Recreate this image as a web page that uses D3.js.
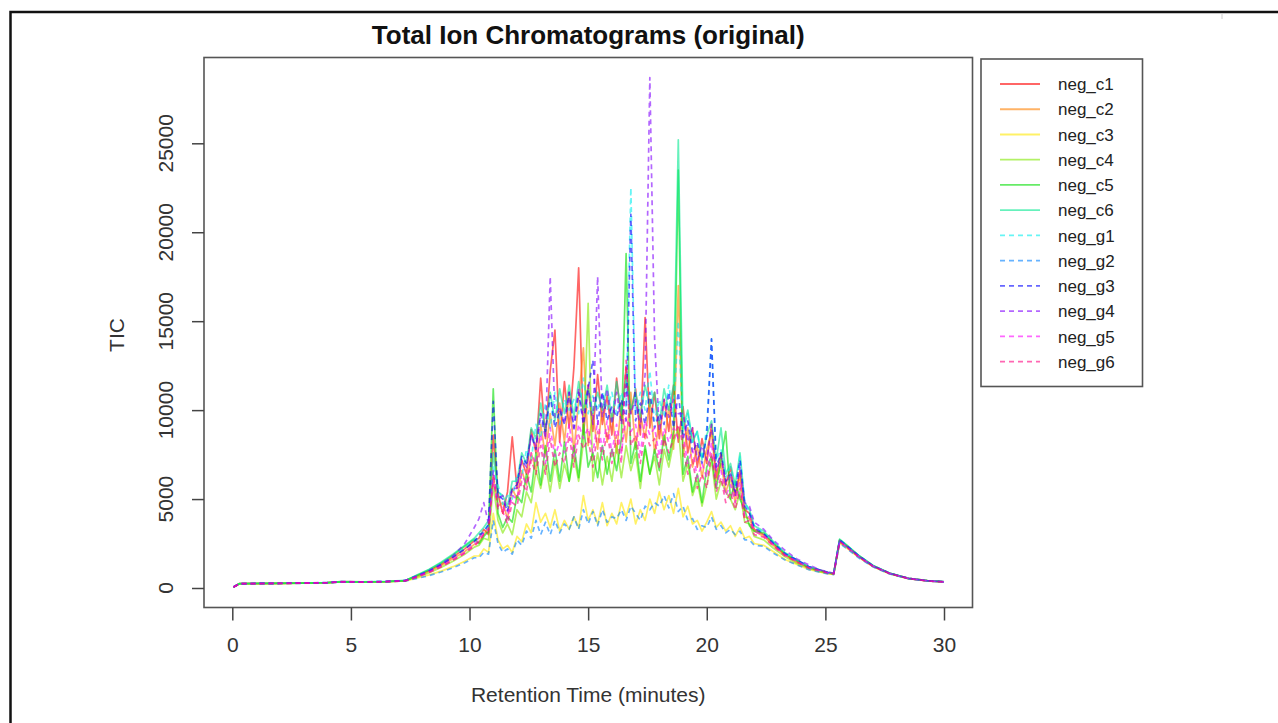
<!DOCTYPE html>
<html>
<head>
    <meta charset="utf-8" />
    <title>Total Ion Chromatograms (original)</title>
    <style>
        body { margin: 0; background: #fff; }
        text { font-family: "Liberation Sans", Arial, Helvetica, sans-serif; }
    </style>
</head>
<body>
<script src="https://d3js.org/d3.v7.min.js"></script>
<script>
    // retention time (minutes) shared by all samples
    var rt = [0.05, 0.3, 1, 2, 3, 4, 4.6, 5.5, 6.5, 7.3, 7.8, 8.3, 8.8, 9.3, 9.8, 10.2,
              10.4, 10.6, 10.8, 11.0, 11.2, 11.4, 11.6, 11.8, 12.0, 12.2,
              12.4, 12.6, 12.8, 13.0, 13.2, 13.4, 13.6, 13.8, 14.0, 14.2,
              14.4, 14.6, 14.8, 15.0, 15.2, 15.4, 15.6, 15.8, 16.0, 16.2,
              16.4, 16.6, 16.8, 17.0, 17.2, 17.4, 17.6, 17.8, 18.0, 18.2,
              18.4, 18.6, 18.8, 19.0, 19.2, 19.4, 19.6, 19.8, 20.0, 20.2,
              20.4, 20.6, 20.8, 21.0, 21.2, 21.4, 21.6, 21.8, 22.0,
              22.4, 22.8, 23.3, 23.8, 24.3, 24.8, 25.1, 25.35, 25.6, 25.9, 26.4, 27.0, 27.7, 28.5, 29.3, 30.0];

    // TIC per sample
    var neg_c1 = [60, 250, 255, 265, 280, 300, 355, 340, 365, 420, 700, 980, 1320, 1750, 2200, 2650,
                  2800, 3300, 3000, 8600, 5300, 4200, 5400, 8500, 5600, 7200,
                  6400, 8900, 7600, 11800, 8400, 12200, 14500, 8200, 11600, 9000,
                  12400, 18000, 8600, 11400, 8800, 12000, 9200, 10800, 8600, 11800,
                  9400, 12400, 9800, 11200, 8600, 15200, 9000, 11000, 8400, 10600,
                  8800, 11400, 8200, 10200, 7600, 9000, 6800, 8400, 7000, 9200,
                  6200, 7600, 5800, 6800, 5200, 6600, 4400, 4200, 3300,
                  3000, 2500, 1850, 1500, 1120, 980, 840, 800, 2680, 2360, 1800, 1250, 830, 540, 410, 350];
    var neg_c2 = [55, 245, 250, 262, 276, 296, 350, 335, 360, 410, 660, 930, 1250, 1650, 2050, 2450,
                  2600, 3000, 3400, 6200, 4600, 4800, 3900, 5600, 5000, 6600,
                  5800, 7600, 6600, 9200, 7400, 9800, 8000, 10400, 8200, 11000,
                  7600, 10600, 13500, 8000, 9800, 7800, 10200, 8200, 9800, 7600,
                  10400, 8200, 11000, 7800, 9800, 8400, 10600, 7600, 9400, 8000,
                  10200, 7800, 17000, 7400, 9000, 6800, 8000, 6200, 7800, 8800,
                  6000, 7000, 5400, 6200, 4800, 6400, 4000, 3900, 3200,
                  2900, 2400, 1870, 1430, 1150, 930, 860, 790, 2650, 2330, 1780, 1240, 820, 535, 405, 345];
    var neg_c3 = [40, 235, 245, 255, 268, 290, 340, 325, 350, 395, 560, 740, 950, 1200, 1500, 1800,
                  1800, 2200, 2000, 4200, 2700, 2200, 2400, 2000, 2900, 2600,
                  3600, 3100, 4800, 3700, 4200, 3400, 4400, 3200, 3800, 3300,
                  4000, 3400, 5200, 3800, 4400, 3600, 4800, 3500, 4200, 3600,
                  4800, 4000, 5000, 3600, 4400, 3800, 5000, 4200, 5400, 4400,
                  5200, 4200, 5600, 4000, 4600, 3600, 3800, 3200, 3700, 4300,
                  3400, 3700, 3200, 3500, 2900, 3400, 2800, 2900, 2500,
                  2400, 2050, 1600, 1320, 1040, 890, 800, 760, 2520, 2240, 1720, 1200, 800, 520, 395, 335];
    var neg_c4 = [50, 240, 250, 260, 272, 295, 345, 330, 355, 405, 620, 860, 1150, 1500, 1900, 2300,
                  2400, 2800, 2700, 5800, 3800, 3100, 3600, 3000, 4400, 4000,
                  5400, 4800, 6600, 5600, 7000, 5400, 7200, 5600, 7000, 6000,
                  7400, 6000, 8200, 16000, 6000, 7600, 5800, 7400, 6000, 8000,
                  6200, 8000, 6600, 7600, 5600, 7800, 6400, 7400, 5800, 7800,
                  6800, 8200, 9000, 6000, 7000, 5200, 6000, 4600, 5800, 7200,
                  5000, 6000, 5400, 5000, 4400, 5400, 3700, 3600, 2900,
                  2700, 2250, 1760, 1380, 1110, 900, 830, 780, 2600, 2300, 1760, 1220, 810, 530, 400, 340];
    var neg_c5 = [52, 245, 252, 262, 275, 298, 350, 338, 362, 415, 720, 1020, 1400, 1850, 2350, 2750,
                  2500, 2900, 3200, 11200, 4200, 3400, 4000, 3700, 5200, 4800,
                  6400, 5400, 7600, 5800, 8000, 6000, 7800, 6000, 8200, 6000,
                  8000, 6200, 9200, 6800, 7600, 6200, 8000, 6400, 7800, 6600,
                  8400, 18800, 7000, 8200, 6000, 8000, 6400, 7800, 6600, 8600,
                  7200, 8800, 23500, 6400, 7400, 5400, 6400, 4800, 6800, 7400,
                  5600, 7200, 8800, 5000, 6000, 5000, 4400, 3500, 3200,
                  3100, 2550, 1930, 1540, 1170, 990, 860, 810, 2720, 2400, 1830, 1270, 840, 545, 415, 352];
    var neg_c6 = [58, 250, 258, 268, 282, 305, 360, 345, 372, 425, 740, 1050, 1450, 1900, 2400, 2800,
                  3100, 3400, 3800, 7600, 5400, 5200, 4600, 6000, 6000, 7600,
                  7000, 9000, 8400, 10400, 8800, 11000, 9400, 11200, 9800, 11400,
                  9600, 11600, 10000, 11200, 9800, 11000, 10000, 11400, 9400, 11600,
                  9800, 11800, 10000, 11000, 9600, 11400, 10200, 11000, 9200, 11200,
                  10000, 11400, 25200, 9000, 10000, 8200, 8800, 7200, 8600, 9400,
                  7200, 9000, 6400, 7000, 5800, 7600, 4800, 4400, 3500,
                  3200, 2620, 1980, 1570, 1190, 1000, 870, 820, 2750, 2420, 1840, 1280, 845, 548, 418, 355];
    var neg_g1 = [55, 248, 255, 265, 280, 302, 355, 340, 368, 420, 700, 990, 1350, 1780, 2250, 2700,
                  2800, 3300, 3500, 6800, 5800, 4700, 5200, 5000, 6400, 6200,
                  7800, 7200, 9200, 8400, 10400, 9000, 11000, 9200, 10600, 10000,
                  10600, 9800, 11800, 9800, 10800, 10000, 11000, 10000, 11000, 9800,
                  11000, 10200, 22500, 9800, 11000, 10000, 12200, 9400, 10600, 9600,
                  11400, 9600, 15000, 8800, 9800, 8200, 8800, 7200, 9000, 14000,
                  7200, 7800, 6200, 6800, 5600, 7400, 4800, 4300, 3500,
                  3100, 2560, 1960, 1550, 1180, 985, 870, 815, 2700, 2380, 1820, 1260, 835, 542, 412, 350];
    var neg_g2 = [38, 232, 242, 252, 265, 288, 338, 322, 348, 392, 540, 700, 900, 1130, 1420, 1700,
                  1700, 2000, 1900, 3800, 2500, 2000, 2200, 1900, 2700, 2400,
                  3200, 2800, 3800, 3000, 3700, 3000, 3800, 3100, 3600, 3300,
                  4000, 3300, 4400, 3600, 4300, 3500, 4400, 3700, 4000, 3900,
                  4400, 3800, 4600, 4200, 3800, 4600, 4400, 4800, 4600, 5200,
                  4500, 5300, 4300, 4600, 3800, 3900, 3300, 3500, 3400, 4000,
                  3300, 3500, 3100, 3300, 3000, 3200, 2700, 2700, 2400,
                  2350, 1970, 1580, 1300, 1030, 880, 790, 750, 2500, 2220, 1700, 1190, 795, 518, 392, 332];
    var neg_g3 = [54, 246, 254, 264, 278, 300, 352, 338, 365, 418, 680, 960, 1300, 1720, 2180, 2600,
                  3000, 3100, 3600, 10500, 5200, 5000, 4300, 5600, 5800, 7400,
                  7000, 8600, 7800, 9800, 8800, 10800, 9000, 10000, 9200, 11000,
                  9000, 11000, 9200, 11200, 12800, 9200, 11000, 9400, 10200, 9600,
                  10600, 9400, 21000, 9400, 10400, 9200, 11000, 9000, 9800, 9200,
                  11000, 9000, 11000, 8400, 9400, 7600, 8200, 7000, 8600, 14000,
                  6800, 7600, 6000, 6400, 5400, 7200, 4600, 4200, 3400,
                  3050, 2520, 1930, 1580, 1210, 1010, 880, 820, 2700, 2370, 1810, 1255, 832, 540, 410, 348];
    var neg_g4 = [56, 250, 256, 266, 282, 305, 365, 345, 370, 425, 690, 980, 1340, 1800, 2500, 3400,
                  3900, 4800, 3600, 6600, 5000, 5200, 4300, 5600, 5600, 7200,
                  6800, 8600, 8000, 9800, 8400, 17500, 9600, 10200, 9200, 11000,
                  8800, 11200, 9400, 11400, 9200, 17500, 9600, 11200, 9200, 11000,
                  9200, 11400, 9800, 10600, 9000, 12000, 28700, 14000, 8800, 10600,
                  9600, 10600, 9800, 9800, 8200, 9000, 7200, 8000, 7200, 9200,
                  6600, 7400, 5800, 6400, 5200, 6800, 4800, 4600, 3700,
                  3300, 2700, 2120, 1630, 1300, 1010, 910, 830, 2660, 2340, 1790, 1245, 828, 538, 408, 346];
    var neg_g5 = [50, 242, 250, 260, 274, 296, 348, 334, 358, 408, 640, 900, 1220, 1600, 2000, 2450,
                  2700, 3100, 3300, 6000, 4600, 4600, 3900, 5200, 5000, 6400,
                  5800, 7600, 7000, 8600, 7000, 9000, 7400, 8200, 7600, 9200,
                  7400, 9200, 8400, 9000, 7600, 9400, 7800, 9400, 7600, 9200,
                  7600, 9600, 8800, 9200, 7600, 9400, 8600, 9000, 7400, 9000,
                  8200, 9000, 8400, 8600, 7000, 7800, 6200, 7000, 6200, 8200,
                  5800, 6600, 5200, 5800, 4800, 6000, 4000, 4000, 3200,
                  2950, 2440, 1860, 1500, 1150, 970, 855, 800, 2620, 2310, 1770, 1235, 822, 533, 404, 343];
    var neg_g6 = [48, 240, 248, 258, 272, 294, 346, 332, 356, 405, 620, 870, 1180, 1550, 1950, 2350,
                  2600, 3000, 3100, 6400, 4400, 4300, 3600, 4800, 4600, 6000,
                  5400, 7200, 6400, 8000, 6400, 8400, 6800, 7600, 7000, 8600,
                  6800, 8600, 7800, 8400, 6800, 8800, 7200, 8800, 7000, 8600,
                  7000, 12800, 8000, 8600, 7000, 8800, 8000, 8400, 6800, 8400,
                  7600, 8400, 9200, 8000, 6400, 7200, 5600, 6400, 5600, 7600,
                  5400, 6200, 4800, 5400, 4400, 5600, 3700, 3800, 3000,
                  2850, 2370, 1800, 1460, 1120, 950, 845, 790, 2600, 2290, 1750, 1225, 815, 530, 400, 340];

    var sampleNames = ["neg_c1", "neg_c2", "neg_c3", "neg_c4", "neg_c5", "neg_c6",
                       "neg_g1", "neg_g2", "neg_g3", "neg_g4", "neg_g5", "neg_g6"];
    var samples = [neg_c1, neg_c2, neg_c3, neg_c4, neg_c5, neg_c6,
                   neg_g1, neg_g2, neg_g3, neg_g4, neg_g5, neg_g6];

    var xTicks = [0, 5, 10, 15, 20, 25, 30];
    var yTicks = [0, 5000, 10000, 15000, 20000, 25000];

    var colors = ["#ff0000", "#ff8000", "#ffe800", "#80e800", "#00dd00", "#00e890",
                  "#00eeee", "#0080ff", "#0000ff", "#8000ff", "#ff00ff", "#ff0080"];

    var width = 1278;
    var height = 723;
    var box = {"left": 204, "right": 972.5, "top": 57.5, "bottom": 607.5};
    var axisColor = "#444";

    var svg = d3.select("body").append("svg")
                .attr("width", width)
                .attr("height", height);

    svg.append("rect")
       .attr("width", width)
       .attr("height", height)
       .attr("fill", "#fff");

    // outer frame of the screenshot
    svg.append("rect")
       .attr("x", 10.5).attr("y", 12)
       .attr("width", 1300).attr("height", 800)
       .attr("fill", "none")
       .attr("stroke", "#111")
       .attr("stroke-width", 2.5);
    svg.append("line")
       .attr("x1", 1222).attr("x2", 1222)
       .attr("y1", 13).attr("y2", 19)
       .attr("stroke", "#ccc");

    var xScale = d3.scaleLinear().domain([0, 30]).range([232.3, 944]);
    var yScale = d3.scaleLinear().domain([0, 25000]).range([588, 143.3]);

    var line = d3.line()
                 .x(function (d, i) { return xScale(rt[i]); })
                 .y(function (d) { return yScale(d); });

    svg.append("clipPath").attr("id", "plotclip")
       .append("rect")
       .attr("x", box.left).attr("y", box.top)
       .attr("width", box.right - box.left)
       .attr("height", box.bottom - box.top);

    var lines = svg.append("g").attr("clip-path", "url(#plotclip)");

    samples.forEach(function (s, k) {
        lines.append("path")
             .attr("d", line(s))
             .attr("fill", "none")
             .attr("stroke", colors[k])
             .attr("stroke-opacity", 0.6)
             .attr("stroke-width", 1.7)
             .attr("stroke-linejoin", "round")
             .attr("stroke-dasharray", k < 6 ? null : "5,4");
    });

    // plot box
    svg.append("rect")
       .attr("x", box.left).attr("y", box.top)
       .attr("width", box.right - box.left)
       .attr("height", box.bottom - box.top)
       .attr("fill", "none")
       .attr("stroke", "#555")
       .attr("stroke-width", 1.6);

    // x axis
    var xAxis = d3.axisBottom(xScale)
                  .tickValues(xTicks)
                  .tickSize(13)
                  .tickSizeOuter(0)
                  .tickPadding(17);
    var gx = svg.append("g")
                .attr("transform", "translate(0," + box.bottom + ")")
                .call(xAxis);
    gx.select(".domain").remove();
    gx.selectAll("line").attr("stroke", axisColor).attr("stroke-width", 1.5);
    gx.selectAll("text")
      .attr("fill", "#333")
      .style("font-size", "21px")
      .style("font-family", '"Liberation Sans", Arial, sans-serif');

    // y axis
    var yAxis = d3.axisLeft(yScale)
                  .tickValues(yTicks)
                  .tickSize(12)
                  .tickSizeOuter(0)
                  .tickFormat("");
    var gy = svg.append("g")
                .attr("transform", "translate(" + box.left + ",0)")
                .call(yAxis);
    gy.select(".domain").remove();
    gy.selectAll("line").attr("stroke", axisColor).attr("stroke-width", 1.5);

    svg.append("g").selectAll("text")
       .data(yTicks)
       .enter().append("text")
       .attr("transform", function (d) { return "translate(173," + yScale(d) + ") rotate(-90)"; })
       .attr("text-anchor", "middle")
       .attr("fill", "#333")
       .style("font-size", "21px")
       .text(function (d) { return d; });

    // titles
    svg.append("text")
       .attr("x", (box.left + box.right) / 2)
       .attr("y", 44)
       .attr("text-anchor", "middle")
       .attr("fill", "#111")
       .style("font-size", "26px")
       .style("font-weight", "bold")
       .text("Total Ion Chromatograms (original)");

    svg.append("text")
       .attr("x", (box.left + box.right) / 2)
       .attr("y", 702)
       .attr("text-anchor", "middle")
       .attr("fill", "#333")
       .style("font-size", "21px")
       .text("Retention Time (minutes)");

    svg.append("text")
       .attr("transform", "translate(124,335) rotate(-90)")
       .attr("text-anchor", "middle")
       .attr("fill", "#333")
       .style("font-size", "21px")
       .text("TIC");

    // legend
    var legend = svg.append("g");
    legend.append("rect")
          .attr("x", 981).attr("y", 59)
          .attr("width", 161.5).attr("height", 327.5)
          .attr("fill", "#fff")
          .attr("stroke", "#555")
          .attr("stroke-width", 1.6);

    var items = legend.selectAll("g.item")
                      .data(sampleNames)
                      .enter().append("g")
                      .attr("class", "item")
                      .attr("transform", function (d, i) { return "translate(0," + (84 + i * 25.24) + ")"; });

    items.append("line")
         .attr("x1", 1000).attr("x2", 1040)
         .attr("stroke", function (d, i) { return colors[i]; })
         .attr("stroke-opacity", 0.6)
         .attr("stroke-width", 1.8)
         .attr("stroke-dasharray", function (d, i) { return i < 6 ? null : "5,4"; });

    items.append("text")
         .attr("x", 1058)
         .attr("dy", "0.36em")
         .attr("fill", "#222")
         .style("font-size", "17px")
         .text(function (d) { return d; });
</script>
</body>
</html>
